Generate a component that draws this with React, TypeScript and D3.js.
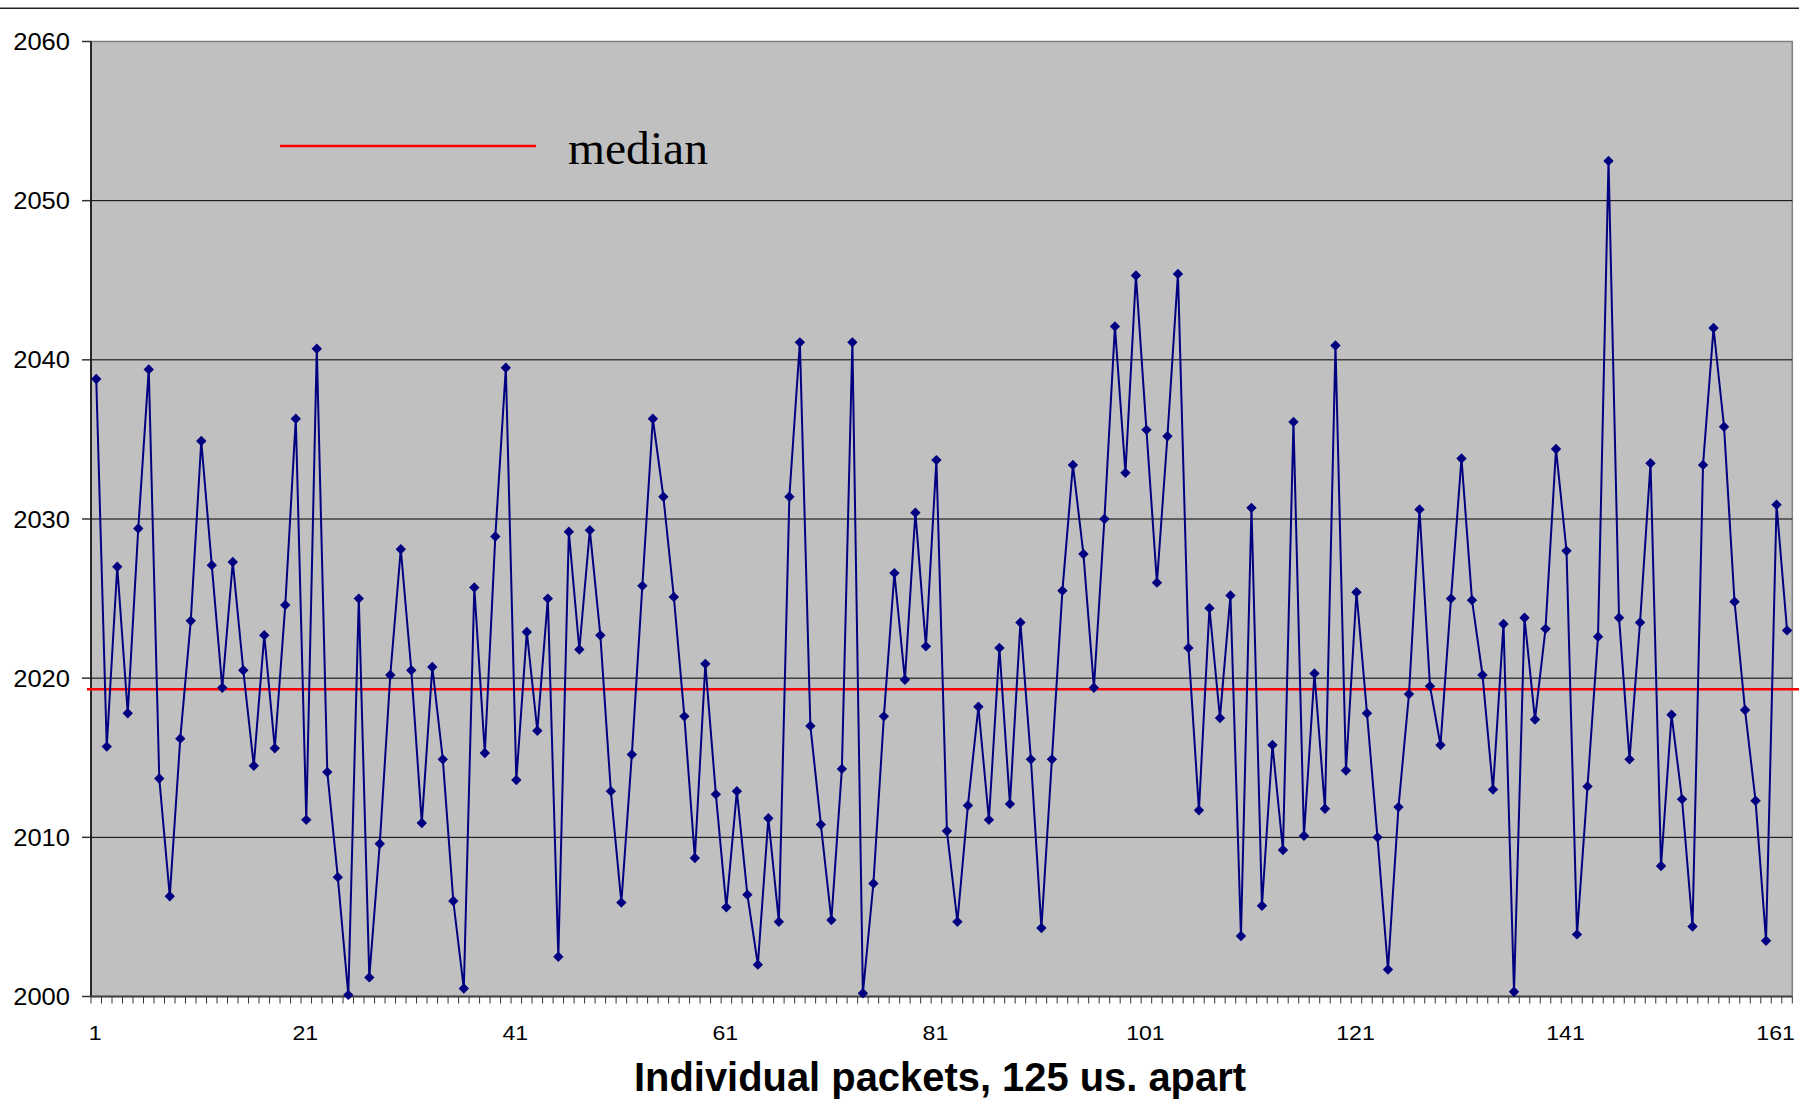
import React from "react";
import * as d3 from "d3";

// Delay per packet, one value per packet index
const packets: number[] = d3.range(1, 163);
const delays: number[] = [
  2038.8, 2015.7, 2027.0, 2017.8, 2029.4, 2039.4, 2013.7, 2006.3, 2016.2, 2023.6,
  2034.9, 2027.1, 2019.4, 2027.3, 2020.5, 2014.5, 2022.7, 2015.6, 2024.6, 2036.3,
  2011.1, 2040.7, 2014.1, 2007.5, 2000.1, 2025.0, 2001.2, 2009.6, 2020.2, 2028.1,
  2020.5, 2010.9, 2020.7, 2014.9, 2006.0, 2000.5, 2025.7, 2015.3, 2028.9, 2039.5,
  2013.6, 2022.9, 2016.7, 2025.0, 2002.5, 2029.2, 2021.8, 2029.3, 2022.7, 2012.9,
  2005.9, 2015.2, 2025.8, 2036.3, 2031.4, 2025.1, 2017.6, 2008.7, 2020.9, 2012.7,
  2005.6, 2012.9, 2006.4, 2002.0, 2011.2, 2004.7, 2031.4, 2041.1, 2017.0, 2010.8,
  2004.8, 2014.3, 2041.1, 2000.2, 2007.1, 2017.6, 2026.6, 2019.9, 2030.4, 2022.0,
  2033.7, 2010.4, 2004.7, 2012.0, 2018.2, 2011.1, 2021.9, 2012.1, 2023.5, 2014.9,
  2004.3, 2014.9, 2025.5, 2033.4, 2027.8, 2019.4, 2030.0, 2042.1, 2032.9, 2045.3,
  2035.6, 2026.0, 2035.2, 2045.4, 2021.9, 2011.7, 2024.4, 2017.5, 2025.2, 2003.8,
  2030.7, 2005.7, 2015.8, 2009.2, 2036.1, 2010.1, 2020.3, 2011.8, 2040.9, 2014.2,
  2025.4, 2017.8, 2010.0, 2001.7, 2011.9, 2019.0, 2030.6, 2019.5, 2015.8, 2025.0,
  2033.8, 2024.9, 2020.2, 2013.0, 2023.4, 2000.3, 2023.8, 2017.4, 2023.1, 2034.4,
  2028.0, 2003.9, 2013.2, 2022.6, 2052.5, 2023.8, 2014.9, 2023.5, 2033.5, 2008.2,
  2017.7, 2012.4, 2004.4, 2033.4, 2042.0, 2035.8, 2024.8, 2018.0, 2012.3, 2003.5,
  2030.9, 2023.0,
];
const medianValue = 2019.3;
const yTicks: number[] = [2000, 2010, 2020, 2030, 2040, 2050, 2060];
const xTickLabels: number[] = [1, 21, 41, 61, 81, 101, 121, 141, 161];
const legendLabel = "median";
const xTitle = "Individual packets, 125 us. apart";

const W = 1799;
const H = 1101;
const plot = { left: 91, right: 1792.3, top: 41.5, bottom: 996.5 };

export default function App() {
  const x = d3
    .scaleBand<number>()
    .domain(packets)
    .range([plot.left, plot.right])
    .paddingInner(0)
    .paddingOuter(0);
  const cx = (p: number) => (x(p) as number) + x.bandwidth() / 2;
  const y = d3.scaleLinear().domain([2000, 2060]).range([plot.bottom, plot.top]);

  const pts = packets.map((p, i) => [cx(p), y(delays[i])] as [number, number]);
  const linePath = d3.line()(pts) as string;
  const r = 5.2;
  const diamond = `M0,${-r}L${r},0L0,${r}L${-r},0Z`;

  // category boundaries for x tick marks
  const boundaries = d3.range(0, packets.length + 1).map((k) => plot.left + k * x.step());

  const sans = "'Liberation Sans', Arial, sans-serif";
  const serif = "'Liberation Serif', 'Times New Roman', serif";

  return (
    <svg
      width={W}
      height={H}
      viewBox={`0 0 ${W} ${H}`}
      style={{ position: "absolute", left: 0, top: 0, background: "#fff" }}
    >
      <rect x={0} y={0} width={W} height={H} fill="#fff" />
      {/* rule above the chart */}
      <line x1={0} x2={W} y1={8.2} y2={8.2} stroke="#222" strokeWidth={1.5} />

      {/* plot area */}
      <rect
        x={plot.left}
        y={plot.top}
        width={plot.right - plot.left}
        height={plot.bottom - plot.top}
        fill="#C0C0C0"
        stroke="#808080"
        strokeWidth={1.5}
      />

      {/* gridlines */}
      {yTicks
        .filter((v) => v !== 2000 && v !== 2060)
        .map((v) => (
          <line key={"g" + v} x1={plot.left} x2={plot.right} y1={y(v)} y2={y(v)} stroke="#000" strokeWidth={1} />
        ))}

      {/* y axis */}
      <line x1={plot.left} x2={plot.left} y1={plot.top} y2={plot.bottom} stroke="#000" strokeWidth={1.5} />
      {yTicks.map((v) => (
        <g key={"y" + v}>
          <line x1={plot.left - 9} x2={plot.left} y1={y(v)} y2={y(v)} stroke="#333" strokeWidth={1.5} />
          <text
            transform={`translate(70,${y(v) + 8.5}) scale(1.11,1)`}
            textAnchor="end"
            fontFamily={sans}
            fontSize={23}
            fill="#000"
          >
            {v}
          </text>
        </g>
      ))}

      {/* x axis */}
      {boundaries.map((bx, k) => (
        <line key={"t" + k} x1={bx} x2={bx} y1={plot.bottom} y2={plot.bottom + 7} stroke="#333" strokeWidth={1} />
      ))}
      <line x1={plot.left} x2={plot.right} y1={plot.bottom} y2={plot.bottom} stroke="#444" strokeWidth={2.2} />
      {xTickLabels.map((p) => (
        <text
          key={"x" + p}
          transform={`translate(${cx(p) - 1},1039.5) scale(1.1,1)`}
          textAnchor="middle"
          fontFamily={sans}
          fontSize={21}
          fill="#000"
        >
          {p}
        </text>
      ))}

      {/* median line */}
      <line x1={87} x2={W} y1={y(medianValue)} y2={y(medianValue)} stroke="#FF0000" strokeWidth={2.5} />

      {/* series */}
      <path d={linePath} fill="none" stroke="#000080" strokeWidth={2} strokeLinejoin="miter" />
      {pts.map(([px, py], i) => (
        <path key={"m" + i} d={diamond} transform={`translate(${px},${py})`} fill="#000080" />
      ))}

      {/* legend */}
      <line x1={280} x2={536} y1={146} y2={146} stroke="#FF0000" strokeWidth={2.5} />
      <text
        x={568}
        y={164}
        fontFamily={serif}
        fontSize={47}
        textLength={140}
        lengthAdjust="spacingAndGlyphs"
        fill="#000"
      >
        {legendLabel}
      </text>

      {/* x axis title */}
      <text
        x={940}
        y={1091}
        textAnchor="middle"
        fontFamily={sans}
        fontWeight="bold"
        fontSize={40}
        textLength={612}
        lengthAdjust="spacingAndGlyphs"
        fill="#000"
      >
        {xTitle}
      </text>
    </svg>
  );
}
